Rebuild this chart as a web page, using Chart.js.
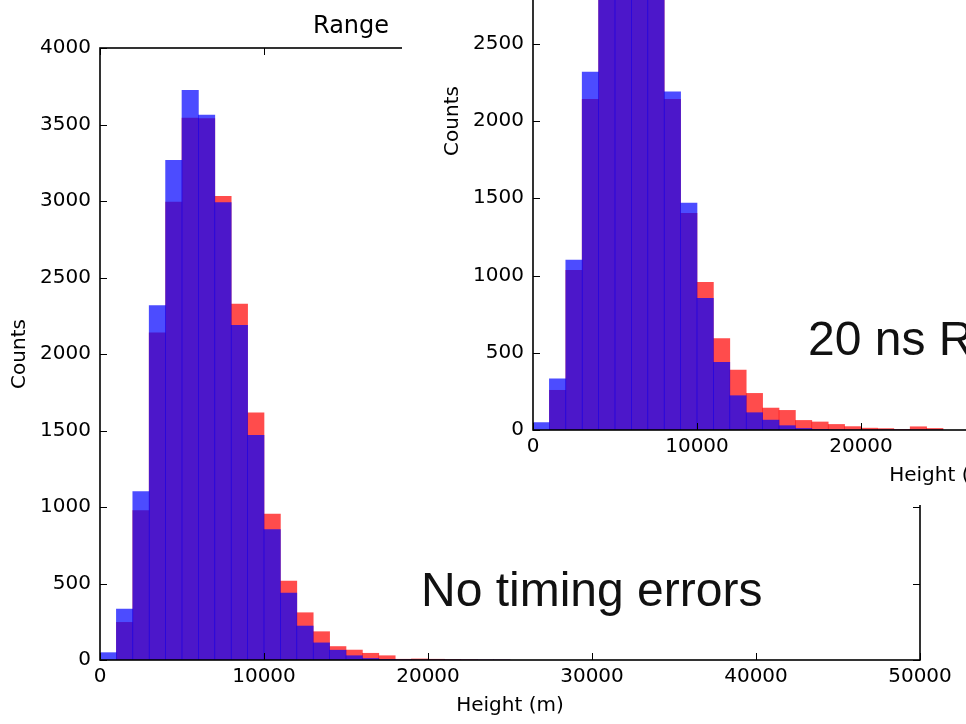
<!DOCTYPE html>
<html>
<head>
<meta charset="utf-8">
<script src="https://cdn.jsdelivr.net/npm/chart.js@4.4.1/dist/chart.umd.min.js"></script>
<style>
    html, body { margin: 0; padding: 0; background: #fff; }
    #page { position: relative; width: 966px; height: 724px; overflow: hidden; }
    #mainChart { position: absolute; left: 0; top: 0; }
    #insetBox { position: absolute; left: 402px; top: 0; width: 564px; height: 505px; overflow: hidden; background: #fff; }
    #insetChart { position: absolute; left: 31px; top: -236px; }
    .note { position: absolute; font-family: 'Liberation Sans', Arial, sans-serif; font-size: 48px; line-height: 48px; color: #111; white-space: nowrap; }
    .title { position: absolute; font-family: 'DejaVu Sans', sans-serif; font-size: 24px; line-height: 24px; color: #000; white-space: nowrap; }
</style>
</head>
<body>
<div id="page">
    <canvas id="mainChart" width="966" height="724"></canvas>
    <div class="title" style="left:313px; top:13px;">Range</div>
    <div class="note" style="left:421px; top:566px;">No timing errors</div>
    <div id="insetBox">
        <canvas id="insetChart" width="966" height="730"></canvas>
        <div class="note" style="left:406px; top:315px;">20 ns RMS</div>
    </div>
</div>
<script>
// left edge of each 1000 m height bin
const binLeft = [0, 1000, 2000, 3000, 4000, 5000, 6000, 7000, 8000, 9000,
    10000, 11000, 12000, 13000, 14000, 15000, 16000, 17000, 18000, 19000,
    20000, 21000, 22000, 23000, 24000];

// blue: true heights (same in both panels)
const trueCounts = [48, 332, 1100, 2316, 3266, 3723, 3562, 2990, 2188, 1469,
    852, 438, 222, 112, 64, 28, 10, 4, 1, 0,
    0, 0, 0, 0, 0];

// red: heights from range, no timing errors
const noTimingCounts = [0, 246, 976, 2139, 2993, 3542, 3538, 3031, 2327, 1616,
    954, 516, 309, 185, 88, 65, 44, 28, 5, 7,
    5, 3, 2, 0, 0];

// red: heights from range, 20 ns RMS timing errors (bins 4-7 run off the top)
const timing20Counts = [0, 257, 1033, 2140, 2950, 3400, 3400, 2900, 2140, 1402,
    956, 591, 388, 237, 142, 127, 62, 52, 36, 22,
    12, 9, 4, 21, 10];

const xTicks = {min: 0, max: 50000, step: 10000};
const yTicks = {min: 0, max: 4000, step: 500};

Chart.defaults.font.family = 'DejaVu Sans';
Chart.defaults.color = '#000';

// matplotlib style box with inward ticks on all four sides
const frameTicks = {
    id: 'frameTicks',
    afterDraw(chart) {
        const {ctx, chartArea: a, scales: {x, y}} = chart;
        ctx.save();
        ctx.strokeStyle = '#000';
        ctx.lineWidth = 1;
        ctx.beginPath();
        x.ticks.forEach((t) => {
            const px = Math.round(x.getPixelForValue(t.value)) + 0.5;
            ctx.moveTo(px, a.bottom); ctx.lineTo(px, a.bottom - 7);
            ctx.moveTo(px, a.top); ctx.lineTo(px, a.top + 7);
        });
        y.ticks.forEach((t) => {
            const py = Math.round(y.getPixelForValue(t.value)) + 0.5;
            ctx.moveTo(a.left, py); ctx.lineTo(a.left + 7, py);
            ctx.moveTo(a.right, py); ctx.lineTo(a.right - 7, py);
        });
        ctx.stroke();
        ctx.lineWidth = 1.6;
        ctx.strokeRect(a.left, a.top, a.right - a.left, a.bottom - a.top);
        ctx.restore();
    }
};

function toPoints(counts) {
    return binLeft.map((x0, i) => ({x: x0 + 500, y: counts[i]}));
}

function drawHistogram(canvasId, blueCounts, redCounts) {
    const ctx = document.getElementById(canvasId);
    return new Chart(ctx, {
        type: 'bar',
        data: {
            datasets: [{
                label: 'true',
                data: toPoints(blueCounts),
                backgroundColor: 'rgba(0, 0, 255, 0.7)',
                borderWidth: 0,
                barPercentage: 1,
                categoryPercentage: 1
            }, {
                label: 'from range',
                data: toPoints(redCounts),
                backgroundColor: 'rgba(255, 0, 0, 0.7)',
                borderWidth: 0,
                barPercentage: 1,
                categoryPercentage: 1
            }]
        },
        options: {
            responsive: false,
            animation: false,
            grouped: false,
            layout: {padding: {left: 0, top: 48, right: 46, bottom: 0}},
            plugins: {legend: {display: false}, tooltip: {enabled: false}},
            scales: {
                x: {
                    type: 'linear',
                    offset: false,
                    min: xTicks.min,
                    max: xTicks.max,
                    grid: {display: false, drawTicks: false},
                    border: {display: false},
                    ticks: {stepSize: xTicks.step, padding: 5, maxRotation: 0, font: {size: 20},
                        callback: (v) => String(v)},
                    title: {display: true, text: 'Height (m)', font: {size: 20}, padding: {top: 0, bottom: 6}},
                    afterFit: (s) => { s.height = 64; }
                },
                y: {
                    min: yTicks.min,
                    max: yTicks.max,
                    grid: {display: false, drawTicks: false},
                    border: {display: false},
                    ticks: {stepSize: yTicks.step, padding: 9, font: {size: 20},
                        callback: (v) => String(v)},
                    title: {display: true, text: 'Counts', font: {size: 20}, padding: {top: 8, bottom: 0}},
                    afterFit: (s) => { s.width = 100; }
                }
            }
        },
        plugins: [frameTicks]
    });
}

drawHistogram('mainChart', trueCounts, noTimingCounts);
drawHistogram('insetChart', trueCounts, timing20Counts);
</script>
</body>
</html>
